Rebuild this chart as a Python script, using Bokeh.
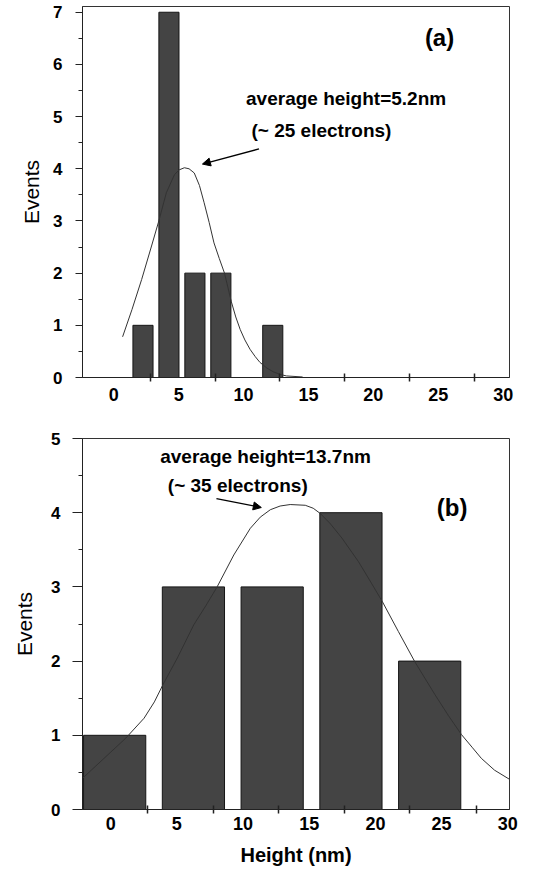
from bokeh.plotting import figure
from bokeh.layouts import column
from bokeh.models import FixedTicker, Range1d, Label, Arrow, NormalHead
from bokeh.embed import file_html
from bokeh.resources import INLINE

# ---------------- data ----------------
# panel (a)
a_centers = [2.25, 4.25, 6.25, 8.25, 12.25]
a_counts = [1, 7, 2, 2, 1]
a_width = 1.55
a_fit_x = [0.68, 1.4, 2.15, 2.91, 3.47, 4.05, 4.68, 5.05, 5.44, 5.8, 6.2, 6.6, 6.96,
           7.35, 7.72, 8.13, 8.53, 9.06, 9.4, 9.74, 10.1, 10.5, 10.9, 11.26, 11.8,
           12.28, 12.8, 13.3, 14.55]
a_fit_y = [0.78, 1.3, 1.88, 2.52, 3.0, 3.54, 3.89, 3.98, 4.02, 4.0, 3.92, 3.68, 3.35,
           2.97, 2.58, 2.28, 2.0, 1.45, 1.16, 0.92, 0.72, 0.54, 0.4, 0.29, 0.18,
           0.11, 0.06, 0.03, 0.01]

# panel (b)
b_centers = [0.3, 6.25, 12.2, 18.15, 24.1]
b_counts = [1, 3, 3, 4, 2]
b_width = 4.7
b_fit_x = [-2.13, -0.5, 1.13, 2.52, 3.3, 3.97, 5.03, 6.28, 7.2, 8.04, 9.3, 10.55,
           11.3, 12.06, 12.8, 13.56, 14.7, 15.3, 15.83, 16.6, 17.46, 18.72, 19.6,
           20.53, 21.73, 22.98, 24.49, 25.5, 26.5, 27.3, 28.0, 29.0, 30.1]
b_fit_y = [0.42, 0.69, 0.96, 1.23, 1.45, 1.69, 2.04, 2.49, 2.75, 3.0, 3.43, 3.79,
           3.94, 4.04, 4.09, 4.11, 4.10, 4.06, 3.99, 3.85, 3.66, 3.34, 3.08,
           2.80, 2.40, 1.99, 1.55, 1.27, 1.01, 0.84, 0.69, 0.53, 0.41]

x_labels = [0, 5, 10, 15, 20, 25, 30]
a_xmarks = [2.8, 7.8, 12.8, 17.8, 22.8, 27.8]
b_xmarks = [2.8, 7.8, 12.7, 17.7, 22.6, 27.6]
a_yticks = [0, 1, 2, 3, 4, 5, 6, 7]
a_yminor = [0.5, 1.5, 2.5, 3.5, 4.5, 5.5, 6.5]
b_yticks = [0, 1, 2, 3, 4, 5]
b_yminor = [0.5, 1.5, 2.5, 3.5, 4.5]

FONT = "Liberation Sans"
BAR_FILL = "#444444"
BAR_LINE = "#151515"
AX = "#222222"


def style(p, xmarks, yticks, yminor, ytick_out, ylab_standoff, yaxis_standoff):
    p.xgrid.visible = False
    p.ygrid.visible = False
    p.outline_line_color = "#333333"
    p.outline_line_width = 1
    p.background_fill_color = "white"
    p.border_fill_color = "white"

    xa = p.xaxis[0]
    xa.ticker = FixedTicker(ticks=x_labels, minor_ticks=xmarks)
    xa.major_tick_out = 0
    xa.major_tick_in = 0
    xa.minor_tick_out = 4
    xa.minor_tick_in = 4
    xa.minor_tick_line_color = AX
    xa.minor_tick_line_width = 1.5
    xa.axis_line_color = AX
    xa.major_label_text_font = FONT
    xa.major_label_text_font_style = "bold"
    xa.major_label_text_font_size = "18px"
    xa.major_label_text_color = "black"

    ya = p.yaxis[0]
    ya.ticker = FixedTicker(ticks=yticks, minor_ticks=yminor)
    ya.major_tick_out = ytick_out
    ya.major_tick_in = 0
    ya.minor_tick_out = 4
    ya.minor_tick_in = 0
    ya.major_tick_line_color = AX
    ya.minor_tick_line_color = AX
    ya.axis_line_color = AX
    ya.major_label_text_font = FONT
    ya.major_label_text_font_style = "bold"
    ya.major_label_text_font_size = "17px"
    ya.major_label_text_color = "black"
    ya.major_label_standoff = ylab_standoff
    ya.axis_label = "Events"
    ya.axis_label_text_font = FONT
    ya.axis_label_text_font_style = "normal"
    ya.axis_label_text_font_size = "21px"
    ya.axis_label_text_color = "black"
    ya.axis_label_standoff = yaxis_standoff


def note(p, text, x, y, size="19px", align="center"):
    p.add_layout(Label(x=x, y=y, text=text, text_font=FONT, text_font_style="bold",
                       text_font_size=size, text_align=align, text_baseline="middle",
                       text_color="black"))


# ---------------- panel (a) ----------------
pa = figure(width=521, height=417, output_backend="svg", toolbar_location=None,
            x_range=Range1d(-2.41, 30.49), y_range=Range1d(0, 7.11),
            min_border_left=75, min_border_right=12, min_border_top=6,
            min_border_bottom=40)
style(pa, a_xmarks, a_yticks, a_yminor, 7, 13, 7)
pa.xaxis[0].major_label_standoff = 6
pa.vbar(x=a_centers, width=a_width, top=a_counts, bottom=0,
        fill_color=BAR_FILL, line_color=BAR_LINE, line_width=1)
pa.line(a_fit_x, a_fit_y, line_color="#333333", line_width=1)
note(pa, "average height=5.2nm", 17.9, 5.35)
note(pa, "(~ 25 electrons)", 16.0, 4.73)
note(pa, "(a)", 25.1, 6.52, size="24px")
pa.add_layout(Arrow(end=NormalHead(size=8, fill_color="black", line_color="black"),
                    x_start=11.19, y_start=4.38, x_end=6.83, y_end=4.09,
                    line_color="black", line_width=1.3))

# ---------------- panel (b) ----------------
pb = figure(width=521, height=451, output_backend="svg", toolbar_location=None,
            x_range=Range1d(-2.13, 30.13), y_range=Range1d(0, 5),
            min_border_left=82, min_border_right=11, min_border_top=21,
            min_border_bottom=59)
style(pb, b_xmarks, b_yticks, b_yminor, 10, 12, 12)
pb.xaxis[0].major_label_standoff = 3
pb.xaxis[0].axis_label = "Height (nm)"
pb.xaxis[0].axis_label_text_font = FONT
pb.xaxis[0].axis_label_text_font_style = "bold"
pb.xaxis[0].axis_label_text_font_size = "20px"
pb.xaxis[0].axis_label_text_color = "black"
pb.xaxis[0].axis_label_standoff = 11
pb.vbar(x=b_centers, width=b_width, top=b_counts, bottom=0,
        fill_color=BAR_FILL, line_color=BAR_LINE, line_width=1)
pb.line(b_fit_x, b_fit_y, line_color="#333333", line_width=1)
note(pb, "average height=13.7nm", 11.7, 4.76)
note(pb, "(~ 35 electrons)", 9.6, 4.37)
note(pb, "(b)", 25.8, 4.07, size="24px")
pb.add_layout(Arrow(end=NormalHead(size=8, fill_color="black", line_color="black"),
                    x_start=7.99, y_start=4.19, x_end=11.38, y_end=4.07,
                    line_color="black", line_width=1.3))

layout = column(pa, pb, spacing=0)
open("out.html", "w").write(file_html(layout, INLINE))
